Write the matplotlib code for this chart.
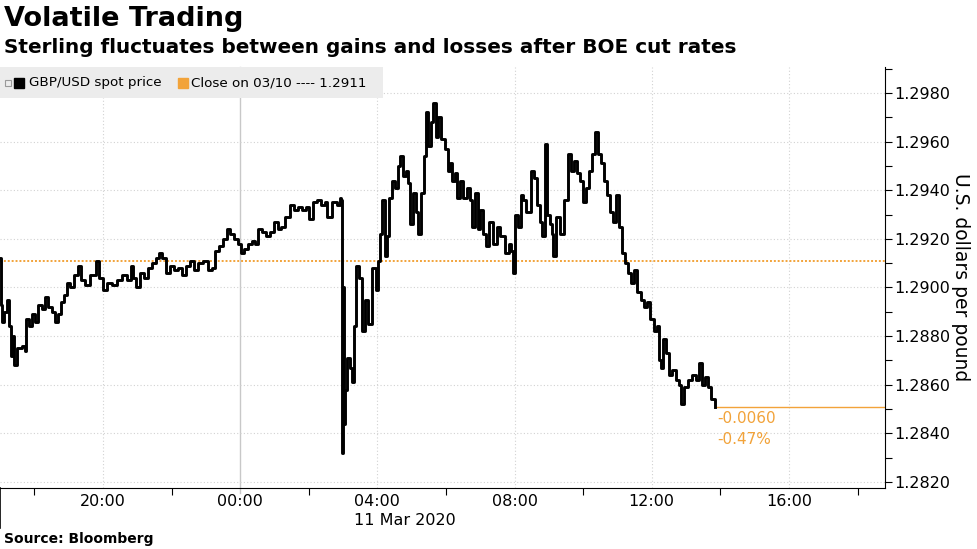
import datetime as dt

import matplotlib
matplotlib.use('Agg')
import matplotlib.pyplot as plt
import matplotlib.dates as mdates
import matplotlib.ticker as mticker
from matplotlib.patches import Rectangle

# GBP/USD spot, 10-11 Mar 2020 (times before 17:00 belong to 11 Mar)
times = [
    "17:00", "17:01", "17:03", "17:07", "17:12", "17:16", "17:19", "17:23", "17:24", "17:30",
    "17:38", "17:44", "17:45", "17:51", "17:56", "18:01", "18:06", "18:13", "18:19", "18:24",
    "18:31", "18:36", "18:41", "18:47", "18:52", "18:57", "19:02", "19:09", "19:16", "19:22",
    "19:29", "19:37", "19:48", "19:53", "20:00", "20:07", "20:16", "20:25", "20:33", "20:42",
    "20:49", "20:53", "20:58", "21:05", "21:12", "21:19", "21:26", "21:33", "21:38", "21:43",
    "21:50", "21:57", "22:04", "22:11", "22:18", "22:25", "22:32", "22:39", "22:46", "22:55",
    "23:04", "23:11", "23:16", "23:23", "23:30", "23:37", "23:42", "23:49", "23:56", "00:02",
    "00:07", "00:14", "00:21", "00:26", "00:31", "00:38", "00:45", "00:52", "00:59", "01:06",
    "01:12", "01:18", "01:27", "01:34", "01:41", "01:48", "01:55", "02:00", "02:07", "02:14",
    "02:21", "02:28", "02:32", "02:41", "02:49", "02:55", "02:56", "02:58", "03:00", "03:02",
    "03:03", "03:07", "03:12", "03:16", "03:19", "03:23", "03:28", "03:33", "03:38", "03:44",
    "03:51", "03:58", "04:01", "04:05", "04:08", "04:13", "04:17", "04:20", "04:26", "04:31",
    "04:36", "04:40", "04:45", "04:50", "04:54", "04:57", "05:02", "05:08", "05:11", "05:16",
    "05:22", "05:25", "05:29", "05:34", "05:37", "05:43", "05:46", "05:51", "05:58", "06:04",
    "06:07", "06:11", "06:16", "06:19", "06:25", "06:30", "06:37", "06:42", "06:46", "06:51",
    "06:56", "07:00", "07:05", "07:10", "07:15", "07:22", "07:29", "07:35", "07:43", "07:50",
    "07:54", "07:57", "08:01", "08:06", "08:11", "08:15", "08:20", "08:29", "08:34", "08:39",
    "08:45", "08:48", "08:53", "08:57", "09:02", "09:05", "09:07", "09:13", "09:20", "09:27",
    "09:34", "09:39", "09:44", "09:49", "09:55", "10:00", "10:05", "10:10", "10:16", "10:21",
    "10:26", "10:31", "10:37", "10:42", "10:47", "10:52", "10:58", "11:03", "11:08", "11:13",
    "11:18", "11:24", "11:29", "11:34", "11:41", "11:46", "11:52", "11:57", "12:04", "12:09",
    "12:13", "12:16", "12:20", "12:25", "12:30", "12:36", "12:42", "12:48", "12:51", "12:56",
    "13:03", "13:10", "13:18", "13:23", "13:28", "13:33", "13:38", "13:44", "13:50",
]
prices = [
    1.2912, 1.2893, 1.2886, 1.2890, 1.2895, 1.2884, 1.2872, 1.2880, 1.2868, 1.2875,
    1.2876, 1.2874, 1.2887, 1.2884, 1.2889, 1.2886, 1.2893, 1.2891, 1.2896, 1.2892,
    1.2890, 1.2886, 1.2889, 1.2894, 1.2897, 1.2902, 1.2900, 1.2905, 1.2909, 1.2903,
    1.2901, 1.2905, 1.2911, 1.2904, 1.2899, 1.2902, 1.2901, 1.2903, 1.2905, 1.2903,
    1.2909, 1.2904, 1.2900, 1.2906, 1.2904, 1.2908, 1.2910, 1.2912, 1.2914, 1.2912,
    1.2906, 1.2909, 1.2907, 1.2908, 1.2905, 1.2909, 1.2911, 1.2907, 1.2910, 1.2911,
    1.2907, 1.2908, 1.2915, 1.2917, 1.2920, 1.2924, 1.2922, 1.2920, 1.2918, 1.2914,
    1.2916, 1.2918, 1.2919, 1.2918, 1.2924, 1.2923, 1.2921, 1.2923, 1.2927, 1.2924,
    1.2925, 1.2929, 1.2934, 1.2932, 1.2933, 1.2932, 1.2933, 1.2928, 1.2935, 1.2936,
    1.2934, 1.2935, 1.2929, 1.2935, 1.2934, 1.2937, 1.2936, 1.2832, 1.2900, 1.2844,
    1.2858, 1.2871, 1.2867, 1.2861, 1.2884, 1.2909, 1.2904, 1.2882, 1.2895, 1.2885,
    1.2908, 1.2899, 1.2911, 1.2922, 1.2936, 1.2913, 1.2921, 1.2937, 1.2944, 1.2941,
    1.2950, 1.2954, 1.2946, 1.2948, 1.2943, 1.2926, 1.2939, 1.2931, 1.2922, 1.2939,
    1.2954, 1.2972, 1.2958, 1.2968, 1.2976, 1.2962, 1.2970, 1.2961, 1.2957, 1.2948,
    1.2951, 1.2944, 1.2947, 1.2937, 1.2944, 1.2937, 1.2941, 1.2936, 1.2925, 1.2939,
    1.2924, 1.2932, 1.2922, 1.2917, 1.2927, 1.2918, 1.2925, 1.2921, 1.2914, 1.2918,
    1.2915, 1.2906, 1.2930, 1.2925, 1.2938, 1.2936, 1.2931, 1.2948, 1.2945, 1.2934,
    1.2927, 1.2921, 1.2959, 1.2930, 1.2926, 1.2922, 1.2913, 1.2929, 1.2922, 1.2936,
    1.2955, 1.2948, 1.2952, 1.2947, 1.2944, 1.2935, 1.2941, 1.2948, 1.2955, 1.2964,
    1.2955, 1.2951, 1.2944, 1.2938, 1.2931, 1.2927, 1.2938, 1.2925, 1.2914, 1.2910,
    1.2906, 1.2902, 1.2907, 1.2898, 1.2895, 1.2892, 1.2894, 1.2887, 1.2882, 1.2884,
    1.2870, 1.2867, 1.2879, 1.2873, 1.2864, 1.2866, 1.2862, 1.2860, 1.2852, 1.2859,
    1.2862, 1.2864, 1.2862, 1.2869, 1.2860, 1.2863, 1.2859, 1.2854, 1.2851,
]
prev_close = 1.2911
change_labels = ["-0.0060", "-0.47%"]

BLACK = '#000000'
ORANGE = '#f2a33a'
GRID = '#d2d2d2'

base = dt.datetime(2020, 3, 10)


def to_dt(s):
    h, m = map(int, s.split(':'))
    day = 0 if h >= 17 else 1
    return base + dt.timedelta(days=day, hours=h, minutes=m)


x = [to_dt(t) for t in times]
x_start = base + dt.timedelta(hours=17)
x_end = base + dt.timedelta(days=1, hours=18, minutes=48)

plt.rcParams['font.family'] = ['DejaVu Sans']

fig = plt.figure(figsize=(9.77, 5.49), dpi=100)
ax = fig.add_axes([0.0, 0.111, 885 / 977, 0.767])

# grid
for h in [0, 4, 8, 12, 16, 20]:
    day = 0 if h >= 17 else 1
    gx = base + dt.timedelta(days=day, hours=h)
    if h == 0:
        ax.axvline(gx, ymin=-0.012, ymax=1, color='#c8c8c8', lw=1, clip_on=False, zorder=1)
    else:
        ax.axvline(gx, color=GRID, lw=0.8, ls=(0, (1, 2)), zorder=1)
for gy in [1.2820 + 0.002 * i for i in range(9)]:
    ax.axhline(gy, color=GRID, lw=0.8, ls=(0, (1, 2)), zorder=1)

# close line and data
ax.axhline(prev_close, color=ORANGE, lw=1.4, ls=(0, (1, 1)), zorder=2)
ax.plot(x, prices, color=BLACK, lw=2.1, drawstyle='steps-post', zorder=3)
ax.plot([x[-1], x_end], [prices[-1], prices[-1]], color=ORANGE, lw=1.0, zorder=2)
ax.text(x[-1] + dt.timedelta(minutes=5), 1.28462, change_labels[0], color=ORANGE,
        fontsize=11, ha='left', va='center')
ax.text(x[-1] + dt.timedelta(minutes=5), 1.28376, change_labels[1], color=ORANGE,
        fontsize=11, ha='left', va='center')

ax.set_xlim(x_start, x_end)
ax.set_ylim(1.28175, 1.29907)

# axes styling
for side in ['left', 'top']:
    ax.spines[side].set_visible(False)
ax.spines['right'].set_color(BLACK)
ax.spines['bottom'].set_color(BLACK)

ax.yaxis.tick_right()
ax.yaxis.set_label_position('right')
ax.yaxis.set_major_locator(mticker.MultipleLocator(0.002))
ax.yaxis.set_minor_locator(mticker.MultipleLocator(0.001))
ax.yaxis.set_major_formatter(mticker.FormatStrFormatter('%.4f'))
ax.tick_params(axis='y', which='both', length=5, width=0.8, labelsize=11.5, pad=2)
ax.set_ylabel('U.S. dollars per pound', rotation=270, fontsize=13.5, labelpad=14)

ax.xaxis.set_major_locator(mdates.HourLocator(byhour=[0, 4, 8, 12, 16, 20]))
ax.xaxis.set_minor_locator(mdates.HourLocator(byhour=[2, 6, 10, 14, 18, 22]))
ax.xaxis.set_major_formatter(mdates.DateFormatter('%H:%M'))
ax.tick_params(axis='x', which='major', length=0, labelsize=11.5, pad=4)
ax.tick_params(axis='x', which='minor', length=5, width=0.8)

ax.axvline(x_start, ymin=-0.095, ymax=0, color=BLACK, lw=1.2, clip_on=False)
ax.text(405 / 885, -0.078, '11 Mar 2020', transform=ax.transAxes, fontsize=11.5,
        ha='center', va='center')

# legend box
ax.add_patch(Rectangle((0, 0.926), 383 / 885, 0.074, transform=ax.transAxes,
                       facecolor='#ececec', edgecolor='none', zorder=5))
ax.plot([8 / 885], [0.962], transform=ax.transAxes, marker='s', ms=4, mfc='none',
        mec='#999999', mew=0.8, zorder=6)
ax.plot([19 / 885], [0.962], transform=ax.transAxes, marker='s', ms=7, color=BLACK, zorder=6)
ax.text(29 / 885, 0.962, 'GBP/USD spot price', transform=ax.transAxes, fontsize=9.7,
        va='center', ha='left', zorder=6)
ax.plot([183 / 885], [0.962], transform=ax.transAxes, marker='s', ms=7, color=ORANGE, zorder=6)
ax.text(191 / 885, 0.962, 'Close on 03/10 ---- %.4f' % prev_close, transform=ax.transAxes,
        fontsize=9.7, va='center', ha='left', zorder=6)

# titles
fig.text(0.004, 0.966, 'Volatile Trading', fontsize=19.5, fontweight='bold', va='center', ha='left')
fig.text(0.004, 0.913, 'Sterling fluctuates between gains and losses after BOE cut rates',
         fontsize=14.4, fontweight='bold', va='center', ha='left')
fig.text(0.004, 0.018, 'Source: Bloomberg', fontsize=10, fontweight='bold', va='center', ha='left')

fig.savefig('out.png', dpi=100)
